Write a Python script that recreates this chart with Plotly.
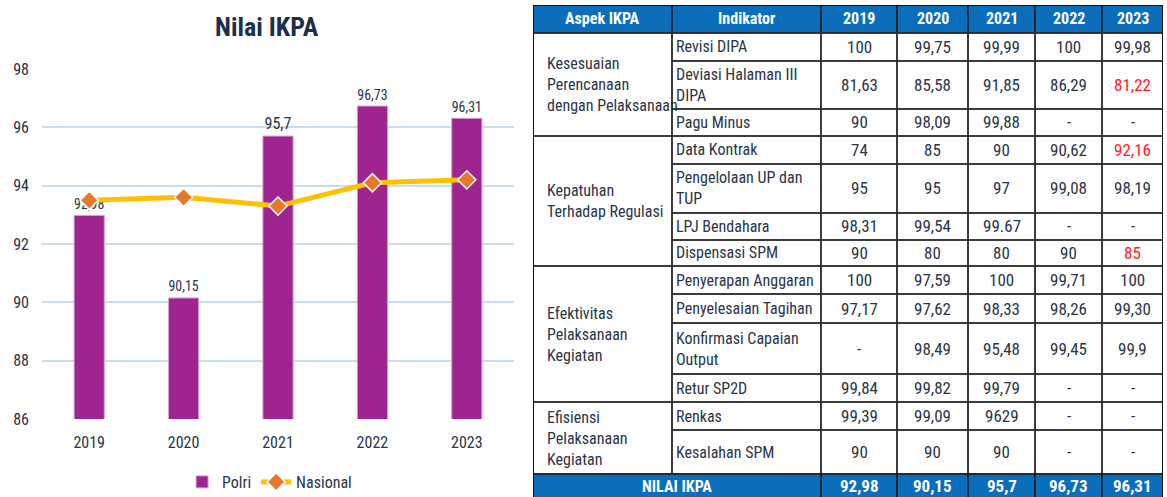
import plotly.graph_objects as go
import numpy as np

# ---------------- data ----------------
years = ["2019", "2020", "2021", "2022", "2023"]
polri = [92.98, 90.15, 95.7, 96.73, 96.31]
nasional = [93.5, 93.6, 93.3, 94.1, 94.2]

table_header = ["Aspek IKPA", "Indikator"] + years
aspek = [
    "Kesesuaian<br>Perencanaan<br>dengan Pelaksanaan",
    "Kepatuhan<br>Terhadap Regulasi",
    "Efektivitas<br>Pelaksanaan<br>Kegiatan",
    "Efisiensi<br>Pelaksanaan<br>Kegiatan",
]
aspek_span = [3, 4, 4, 2]
indikator = [
    "Revisi DIPA", "Deviasi Halaman III<br>DIPA", "Pagu Minus",
    "Data Kontrak", "Pengelolaan UP dan<br>TUP", "LPJ Bendahara", "Dispensasi SPM",
    "Penyerapan Anggaran", "Penyelesaian Tagihan", "Konfirmasi Capaian<br>Output", "Retur SP2D",
    "Renkas", "Kesalahan SPM",
]
val_2019 = ["100", "81,63", "90", "74", "95", "98,31", "90", "100", "97,17", "-", "99,84", "99,39", "90"]
val_2020 = ["99,75", "85,58", "98,09", "85", "95", "99,54", "80", "97,59", "97,62", "98,49", "99,82", "99,09", "90"]
val_2021 = ["99,99", "91,85", "99,88", "90", "97", "99.67", "80", "100", "98,33", "95,48", "99,79", "9629", "90"]
val_2022 = ["100", "86,29", "-", "90,62", "99,08", "-", "90", "99,71", "98,26", "99,45", "-", "-", "-"]
val_2023 = ["99,98", "81,22", "-", "92,16", "98,19", "-", "85", "100", "99,30", "99,9", "-", "-", "-"]
red_2023 = [False, True, False, True, False, False, True, False, False, False, False, False, False]
footer_label = "NILAI IKPA"
footer_values = ["92,98", "90,15", "95,7", "96,73", "96,31"]

# ---------------- styles ----------------
FONT = "Liberation Sans Narrow, Arial Narrow, Roboto Condensed, Lato, sans-serif"
TXT = "#2A3547"
BLUE = "#0A6EBD"
col_widths = [139, 149, 76, 71, 67, 67, 61]
header_h = 28
row_heights = [28, 48, 27, 28, 49, 27, 26, 28, 29, 51, 28, 28, 44]
footer_h = 24
visible_h = 492

fig = go.Figure()

fig.add_trace(go.Bar(
    x=years, y=polri, name="Polri", width=0.32,
    marker=dict(color="#A0248F", line=dict(color="#D7A3CF", width=1)),
    texttemplate="%{y}", textposition="outside", cliponaxis=False,
    textfont=dict(family=FONT, size=16, color=TXT),
))
fig.add_trace(go.Scatter(
    x=years, y=nasional, name="Nasional", mode="lines+markers",
    line=dict(color="#FFC000", width=5),
    marker=dict(symbol="diamond", size=14, color="#E8772E", line=dict(color="white", width=1.5)),
))

# ---------------- table on its own axes ----------------
x_edges = np.concatenate([[0], np.cumsum(col_widths)])
all_h = [header_h] + row_heights + [footer_h]
y_edges = np.concatenate([[0], np.cumsum(all_h)])

shapes = []
annotations = []

def rect(x0, x1, y0, y1, fill="rgba(0,0,0,0)", lc="#303030", lw=1.5):
    shapes.append(dict(type="rect", xref="x2", yref="y2", x0=x0, x1=x1, y0=y0, y1=y1,
                       fillcolor=fill, line=dict(color=lc, width=lw), layer="below"))

def text(x, y, s, xanchor="center", color=TXT, bold=False, size=16):
    annotations.append(dict(xref="x2", yref="y2", x=x, y=y, text=s, showarrow=False,
                            xanchor=xanchor, yanchor="middle", align="left" if xanchor == "left" else "center",
                            font=dict(family=FONT, size=size, color=color,
                                      weight="bold" if bold else "normal")))

# header
for c, h in enumerate(table_header):
    rect(x_edges[c], x_edges[c + 1], y_edges[0], y_edges[1], fill=BLUE, lc="#1a1a1a")
    text((x_edges[c] + x_edges[c + 1]) / 2, (y_edges[0] + y_edges[1]) / 2, h, color="white", bold=True, size=16)

# body
values = [val_2019, val_2020, val_2021, val_2022, val_2023]
for r in range(len(indikator)):
    y0, y1 = y_edges[r + 1], y_edges[r + 2]
    ym = (y0 + y1) / 2
    rect(x_edges[1], x_edges[2], y0, y1)
    text(x_edges[1] + 2, ym, indikator[r], xanchor="left")
    for c in range(5):
        rect(x_edges[c + 2], x_edges[c + 3], y0, y1)
        col = "#FF1A1A" if (c == 4 and red_2023[r]) else TXT
        text((x_edges[c + 2] + x_edges[c + 3]) / 2, ym, values[c][r], color=col, size=17)

# merged aspek cells
start = 0
for a, span in zip(aspek, aspek_span):
    y0, y1 = y_edges[start + 1], y_edges[start + span + 1]
    rect(x_edges[0], x_edges[1], y0, y1)
    text(x_edges[0] + 12, (y0 + y1) / 2, a, xanchor="left")
    start += span

# footer
fy0, fy1 = y_edges[-2], y_edges[-1]
rect(x_edges[0], x_edges[2], fy0, fy1, fill=BLUE, lc="#1a1a1a")
text((x_edges[0] + x_edges[2]) / 2, (fy0 + fy1) / 2, footer_label, color="white", bold=True, size=16)
for c in range(5):
    rect(x_edges[c + 2], x_edges[c + 3], fy0, fy1, fill=BLUE, lc="#1a1a1a")
    text((x_edges[c + 2] + x_edges[c + 3]) / 2, (fy0 + fy1) / 2, footer_values[c], color="white", bold=True, size=17)

# outer border
rect(0, x_edges[-1], 0, y_edges[-1], lc="#111111", lw=2)

# chart title
annotations.append(dict(xref="paper", yref="paper", x=0.229, y=1 - 27 / 497, text="<b>Nilai IKPA</b>",
                        showarrow=False, xanchor="center", yanchor="middle",
                        font=dict(family=FONT, size=26, color="#1B2E4B")))

fig.update_layout(
    width=1167, height=497,
    margin=dict(l=0, r=0, t=0, b=0, autoexpand=False),
    paper_bgcolor="white", plot_bgcolor="white",
    separators=",.",
    font=dict(family=FONT, size=16, color=TXT),
    showlegend=True,
    legend=dict(orientation="h", x=0.231, xanchor="center", y=1 - 482 / 497, yanchor="middle",
                font=dict(family=FONT, size=16, color=TXT), itemwidth=30),
    xaxis=dict(domain=[42 / 1167, 514 / 1167], showgrid=False, showline=False, ticks="",
               tickfont=dict(size=16, color=TXT), ticklabelstandoff=12),
    yaxis=dict(domain=[1 - 419 / 497, 1 - 69 / 497], range=[86, 98], dtick=2,
               gridcolor="#C9DCF0", gridwidth=1.5, zeroline=False, showline=False,
               tickfont=dict(size=16, color=TXT), ticklabelstandoff=12),
    xaxis2=dict(domain=[533 / 1167, 1163 / 1167], range=[0, x_edges[-1]], visible=False, anchor="y2"),
    yaxis2=dict(domain=[0, 1 - 5 / 497], range=[visible_h, 0], visible=False, anchor="x2"),
    shapes=shapes,
    annotations=annotations,
)

fig.write_html("out.html", config={"displayModeBar": False},
               post_script="document.body.style.margin='0';document.body.style.overflow='hidden';")
